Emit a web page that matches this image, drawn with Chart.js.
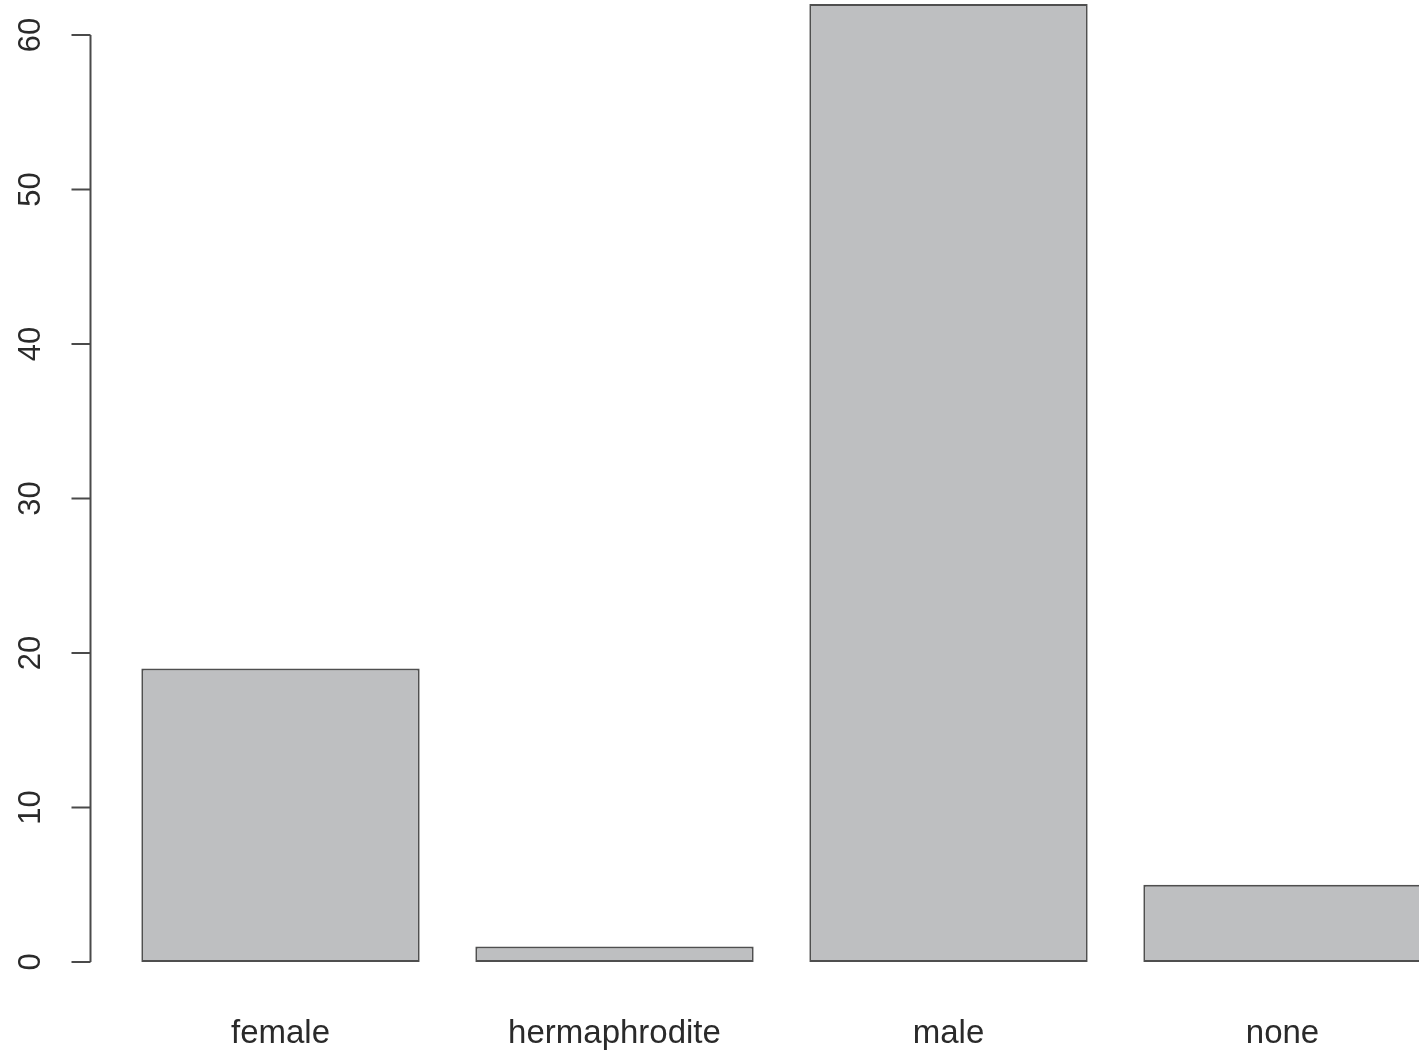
<!DOCTYPE html>
<html>
<head>
<meta charset="utf-8">
<script src="https://cdn.jsdelivr.net/npm/chart.js@4/dist/chart.umd.min.js"></script>
<style>
  html, body { margin: 0; padding: 0; background: #ffffff; overflow: hidden; }
  #wrap { width: 1419px; height: 1054px; position: relative; overflow: hidden; }
</style>
</head>
<body>
<div id="wrap"><canvas id="c" width="1450" height="1054"></canvas></div>
<script>
const categories = ["female", "hermaphrodite", "male", "none"];
const counts = [19, 1, 62, 5];
const yTickValues = [0, 10, 20, 30, 40, 50, 60];

const axisPlugin = {
  id: 'rAxes',
  afterDraw(chart) {
    const ctx = chart.ctx;
    const xs = chart.scales.x, ys = chart.scales.y;
    const axisX = chart.chartArea.left - 23;
    ctx.save();
    ctx.strokeStyle = '#4a4a4a';
    ctx.lineWidth = 2;
    ctx.beginPath();
    ctx.moveTo(axisX, ys.getPixelForValue(yTickValues[0]));
    ctx.lineTo(axisX, ys.getPixelForValue(yTickValues[yTickValues.length - 1]));
    yTickValues.forEach(v => {
      const py = ys.getPixelForValue(v);
      ctx.moveTo(axisX, py);
      ctx.lineTo(axisX - 19, py);
    });
    ctx.stroke();
    ctx.fillStyle = '#2a2a2a';
    ctx.font = '31px "Liberation Sans", Arial, sans-serif';
    ctx.textAlign = 'center';
    ctx.textBaseline = 'middle';
    yTickValues.forEach(v => {
      const py = ys.getPixelForValue(v);
      ctx.save();
      ctx.translate(axisX - 59, py);
      ctx.rotate(-Math.PI / 2);
      ctx.fillText(String(v), 0, 0);
      ctx.restore();
    });
    ctx.font = '33px "Liberation Sans", Arial, sans-serif';
    ctx.textBaseline = 'alphabetic';
    categories.forEach((c, i) => {
      ctx.fillText(c, xs.getPixelForValue(i), ys.getPixelForValue(0) + 81);
    });
    ctx.restore();
  }
};

new Chart(document.getElementById('c'), {
  type: 'bar',
  data: {
    labels: categories,
    datasets: [{
      data: counts,
      backgroundColor: '#bebfc1',
      borderColor: '#4f4f4f',
      borderWidth: 2,
      borderSkipped: false,
      categoryPercentage: 1,
      barPercentage: 1 / 1.2
    }]
  },
  options: {
    responsive: false,
    animation: false,
    events: [],
    layout: { padding: { left: 113.5, right: 0.5, top: 4, bottom: 92 } },
    plugins: { legend: { display: false }, tooltip: { enabled: false } },
    scales: {
      x: { type: 'category', display: false, offset: true },
      y: { type: 'linear', display: false, min: 0, max: 62 }
    }
  },
  plugins: [axisPlugin]
});
</script>
</body>
</html>
